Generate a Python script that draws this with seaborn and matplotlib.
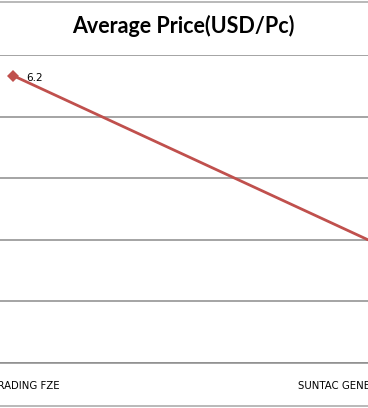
import matplotlib
matplotlib.use("Agg")
import matplotlib.pyplot as plt
from matplotlib.lines import Line2D
import seaborn as sns

# Datos del gráfico
companies = ["GCT TRADING FZE", "SUNTAC GENERAL TRADING"]
prices = [6.2, 5.4]
label_text = ["6.2"]
y_ticks = [4.8, 5.1, 5.4, 5.7, 6.0, 6.3]

sns.set_style("white")
plt.rcParams['font.family'] = ['DejaVu Sans']
plt.rcParams['text.color'] = 'black'
plt.rcParams['xtick.color'] = 'black'

fig = plt.figure(figsize=(3.68, 4.08), dpi=100)
ax = fig.add_axes([0, 45 / 408, 1, 308 / 408])

ax.set_yticks(y_ticks)
ax.yaxis.grid(True, color="#8c8c8c", linewidth=1.1)
ax.set_axisbelow(True)

pos = list(range(len(companies)))
# el segundo marcador queda fuera de la imagen recortada
sns.lineplot(x=pos, y=prices, ax=ax, color="#c0504d", linewidth=2.0,
             marker="D", markersize=6, markeredgewidth=0, markevery=[0])

ax.annotate(label_text[0], (pos[0], prices[0]), xytext=(9.5, -2),
            textcoords="offset points", fontsize=7.5, va="center", ha="left")

span = 368 / 359
ax.set_xlim(-13 / 359, -13 / 359 + span)
ax.set_ylim(y_ticks[0], y_ticks[-1])
ax.set_xticks(pos)
ax.set_xticklabels(companies, fontsize=7.3)
ax.tick_params(axis="x", length=0, pad=13)
ax.tick_params(axis="y", length=0, labelleft=False)
for s in ["top", "left", "right"]:
    ax.spines[s].set_visible(False)
ax.spines["bottom"].set_color("#8c8c8c")
ax.spines["bottom"].set_linewidth(1.1)

fig.text(183 / 368, 1 - 33 / 408, "Average Price(USD/Pc)", ha="center",
         va="baseline", fontsize=15.5, fontweight="bold", family="Lato")

# borde del gráfico recortado
fig.add_artist(Line2D([0, 1], [1 - 2 / 408, 1 - 2 / 408], color="#a6a6a6", linewidth=1.1))
fig.add_artist(Line2D([0, 1], [1 - 406 / 408, 1 - 406 / 408], color="#a6a6a6", linewidth=1.1))

fig.savefig("out.png", dpi=100)
